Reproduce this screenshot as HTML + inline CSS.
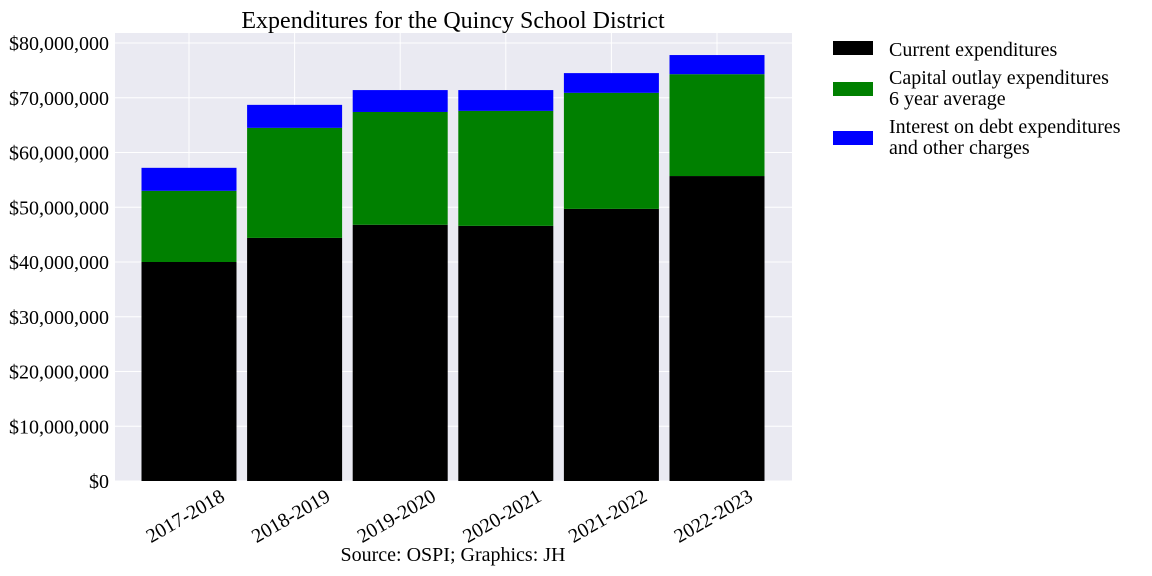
<!DOCTYPE html>
<html><head><meta charset="utf-8"><style>
body{margin:0;background:#fff;}
svg{display:block;font-family:"Liberation Serif",serif;}
</style></head><body>
<svg id="chart" width="1152" height="576">
<rect x="115" y="33" width="677" height="448" fill="#eaeaf2"/>
<g id="grid"></g><g id="bars"></g><g id="axes"></g>
<text x="453" y="28" font-size="24" text-anchor="middle">Expenditures for the Quincy School District</text>
<text x="453" y="561" font-size="20" text-anchor="middle">Source: OSPI; Graphics: JH</text>
<g font-size="20">
<rect x="833" y="41" width="40" height="14" fill="#000"/>
<text x="889" y="56">Current expenditures</text>
<rect x="833" y="82" width="40" height="14" fill="#008000"/>
<text x="889" y="84">Capital outlay expenditures</text>
<text x="889" y="105">6 year average</text>
<rect x="833" y="131" width="40" height="14" fill="#0000ff"/>
<text x="889" y="133">Interest on debt expenditures</text>
<text x="889" y="154">and other charges</text>
</g>
</svg>
<script>
const categories=["2017-2018","2018-2019","2019-2020","2020-2021","2021-2022","2022-2023"];
const currentExp=[40.0,44.4,46.8,46.6,49.7,55.7];
const capitalExp=[13.0,20.1,20.6,21.0,21.2,18.6];
const interestExp=[4.2,4.2,4.0,3.8,3.6,3.5];
const yTicks=[0,10,20,30,40,50,60,70,80];
const yTickLabels=["$0","$10,000,000","$20,000,000","$30,000,000","$40,000,000","$50,000,000","$60,000,000","$70,000,000","$80,000,000"];
const NS="http://www.w3.org/2000/svg";
const y=v=>481-v*5.475;
const x=i=>189+i*105.6;
const bw=95;
function mk(tag,attrs,parent){const e=document.createElementNS(NS,tag);for(const k in attrs)e.setAttribute(k,attrs[k]);parent.appendChild(e);return e;}
const grid=document.getElementById('grid'),bars=document.getElementById('bars'),axes=document.getElementById('axes');
yTicks.forEach((t,i)=>{
 const l=mk('line',{x1:115,x2:792,y1:y(t),y2:y(t),stroke:'#fff','stroke-width':1},grid);
 
 
 const tx=mk('text',{x:109,y:y(t)+7,'font-size':20,'text-anchor':'end'},axes);
 tx.textContent=yTickLabels[i];
 
 
});
categories.forEach((c,i)=>{
 const l=mk('line',{x1:x(i),x2:x(i),y1:33,y2:481,stroke:'#fff','stroke-width':1},grid);
 
 
 let base=0;
 [[currentExp,'#000','current'],[capitalExp,'#008000','capital'],[interestExp,'#0000ff','interest']].forEach(([arr,col,nm])=>{
  const r=mk('rect',{x:x(i)-bw/2,y:y(base+arr[i]),width:bw,height:y(base)-y(base+arr[i]),fill:col},bars);
  
  
  base+=arr[i];
 });
 const tx=mk('text',{x:0,y:0,'font-size':20,'text-anchor':'end',transform:`translate(${x(i)+37},${500}) rotate(-30)`},axes);
 tx.textContent=c;
 
 
});
</script>
</body></html>
